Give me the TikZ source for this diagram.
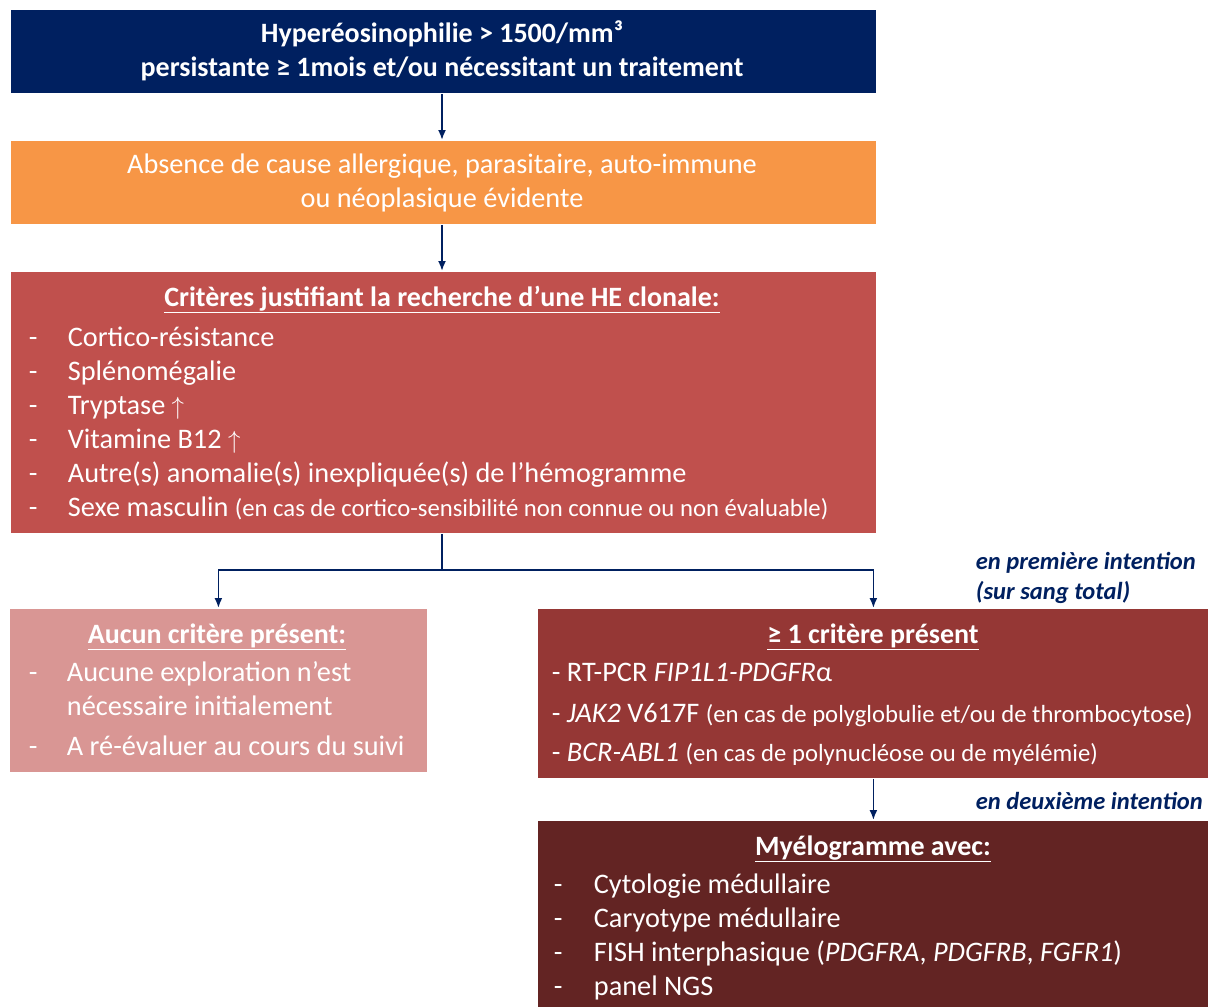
\documentclass[tikz,border=0pt]{standalone}
\usepackage{fontspec}
\setmainfont{Carlito}
\usetikzlibrary{positioning,arrows.meta}

\definecolor{hnavy}{HTML}{002060}
\definecolor{horange}{HTML}{F79646}
\definecolor{hred}{HTML}{C0504D}
\definecolor{hpink}{HTML}{D99694}
\definecolor{hbrick}{HTML}{953735}
\definecolor{hmaroon}{HTML}{632423}

\newcommand{\dashline}[2][39pt]{\makebox[#1][l]{-}#2}
\newcommand{\smallpar}[1]{{\fontsize{24.7}{29}\selectfont #1}}

\begin{document}
\begin{tikzpicture}[x=1pt, y=-1pt, -{Latex[length=10pt, width=8pt]}, line width=1.8pt,
                    box/.style   = {rectangle,
                                    anchor = north west,
                                    inner sep = 0pt},
                    ttl/.style   = {text = white,
                                    anchor = base,
                                    inner sep = 0pt,
                                    font = \bfseries\fontsize{28}{34}\selectfont},
                    itm/.style   = {text = white,
                                    anchor = base west,
                                    inner sep = 0pt,
                                    font = \fontsize{28.3}{34}\selectfont},
                    note/.style  = {text = hnavy,
                                    anchor = base west,
                                    inner sep = 0pt,
                                    font = \bfseries\itshape\fontsize{24.5}{29}\selectfont}]

\useasboundingbox (0,0) rectangle (1208,1007);

% boxes
\node[box, fill = hnavy,   minimum width = 865, minimum height = 83]  (hyper) at (10,9)   {};
\node[box, fill = horange, minimum width = 865, minimum height = 83]  (cause) at (10,140) {};
\node[box, fill = hred,    minimum width = 865, minimum height = 261] (crit)  at (10,271) {};
\node[box, fill = hpink,   minimum width = 417, minimum height = 163] (none)  at (9,608)  {};
\node[box, fill = hbrick,  minimum width = 671, minimum height = 169] (some)  at (537,608) {};
\node[box, fill = hmaroon, minimum width = 671, minimum height = 187] (myelo) at (537,820) {};

% top box
\node[ttl] (hyper1) at (442,42) {Hyperéosinophilie > 1500/mm³};
\node[ttl] (hyper2) at (442,76) {persistante ≥ 1mois et/ou nécessitant un traitement};

% orange box
\node[ttl, font = \fontsize{28.3}{34}\selectfont] (cause1) at (442,173) {Absence de cause allergique, parasitaire, auto-immune};
\node[ttl, font = \fontsize{28.3}{34}\selectfont] (cause2) at (442,207) {ou néoplasique évidente};

% criteria
\node[ttl] (critT) at (442,306) {\underline{Critères justifiant la recherche d’une HE clonale:}};
\node[itm] (crit1) at (28,346) {\dashline{Cortico-résistance}};
\node[itm] (crit2) at (28,380) {\dashline{Splénomégalie}};
\node[itm] (crit3) at (28,414) {\dashline{Tryptase $\uparrow$}};
\node[itm] (crit4) at (28,448) {\dashline{Vitamine B12 $\uparrow$}};
\node[itm] (crit5) at (28,482) {\dashline{Autre(s) anomalie(s) inexpliquée(s) de l’hémogramme}};
\node[itm] (crit6) at (28,516) {\dashline{Sexe masculin \smallpar{(en cas de cortico-sensibilité non connue ou non évaluable)}}};

% no criterion
\node[ttl] (noneT) at (217,643) {\underline{Aucun critère présent:}};
\node[itm] (none1) at (28,681) {\dashline[38pt]{Aucune exploration n’est}};
\node[itm] (none2) at (66,715) {nécessaire initialement};
\node[itm] (none3) at (28,755) {\dashline[38pt]{A ré-évaluer au cours du suivi}};

% at least one criterion
\node[ttl] (someT) at (873,643) {\underline{≥ 1 critère présent}};
\node[itm] (some1) at (551,681) {- RT-PCR \textit{FIP1L1-PDGFR}α};
\node[itm] (some2) at (551,722) {- \textit{JAK2} V617F \smallpar{(en cas de polyglobulie et/ou de thrombocytose)}};
\node[itm] (some3) at (551,761) {- \textit{BCR-ABL1} \smallpar{(en cas de polynucléose ou de myélémie)}};

% myelogram
\node[ttl] (myeloT) at (873,855) {\underline{Myélogramme avec:}};
\node[itm] (myelo1) at (553,893) {\dashline[40pt]{Cytologie médullaire}};
\node[itm] (myelo2) at (553,927) {\dashline[40pt]{Caryotype médullaire}};
\node[itm] (myelo3) at (553,961) {\dashline[40pt]{FISH interphasique (\textit{PDGFRA}, \textit{PDGFRB}, \textit{FGFR1})}};
\node[itm] (myelo4) at (553,995) {\dashline[40pt]{panel NGS}};

% notes
\node[note] (first1) at (975,569) {en première intention};
\node[note] (first2) at (975,599) {(sur sang total)};
\node[note] (second) at (975,809) {en deuxième intention};

% connectors
\coordinate (split) at (442,570);
\draw[hnavy] (hyper.south -| hyper1) -- (cause.north -| hyper1);
\draw[hnavy] (cause.south -| hyper1) -- (crit.north -| hyper1);
\draw[hnavy, -] (crit.south -| hyper1) -- (split);
\draw[hnavy] (split) -| (none.north);
\draw[hnavy] (split) -| (some.north);
\draw[hnavy] (some.south) -- (myelo.north);

\end{tikzpicture}
\end{document}
